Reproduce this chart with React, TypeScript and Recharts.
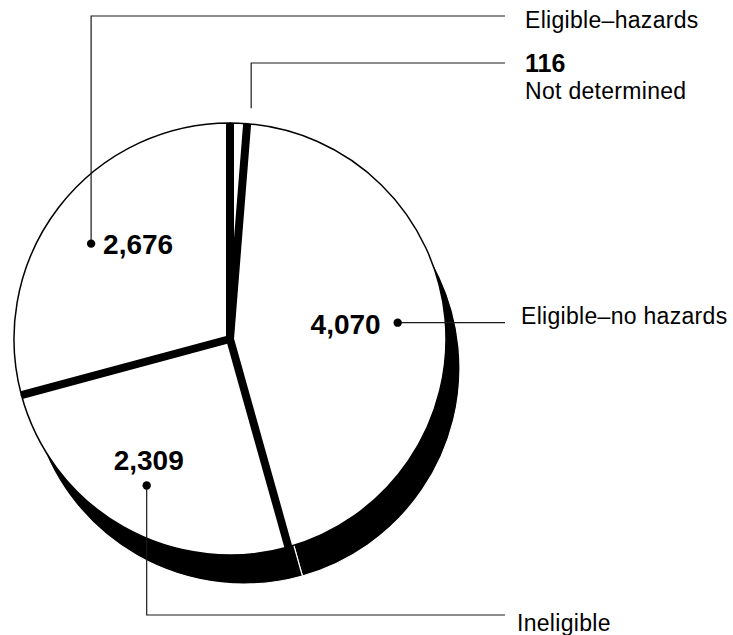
import React from 'react';
import { PieChart, Pie } from 'recharts';

// ---- data ----
const CATEGORIES = ['Not determined', 'Eligible–no hazards', 'Ineligible', 'Eligible–hazards'];
const VALUES = [116, 4070, 2309, 2676];
const VALUE_LABELS = ['116', '4,070', '2,309', '2,676'];

const data = CATEGORIES.map((name, i) => ({ name, value: VALUES[i], valueLabel: VALUE_LABELS[i] }));

// ---- layout / style ----
const W = 733;
const H = 635;
const CX = 230;
const CY = 339;
const R = 216;
const SIDE_DX = 14;
const SIDE_DY = 29;
const LINE_END_X = 505;
const FONT = '"Liberation Sans", Arial, Helvetica, sans-serif';
const DOT_FACTOR = 0.78;

type LabelLayout = {
  kind: 'outsideUp' | 'right' | 'down' | 'up';
  angleOffset?: number;
  lineY?: number;
  numDx: number;
  numDy: number;
  numAnchor: 'start' | 'middle' | 'end';
  textX: number;
  textY: number;
  numX?: number;
  numY?: number;
};

const LAYOUT: LabelLayout[] = [
  { kind: 'outsideUp', lineY: 63, numDx: 0, numDy: 0, numAnchor: 'start', numX: 525, numY: 72, textX: 525, textY: 99 },
  { kind: 'right', numDx: -17, numDy: 11, numAnchor: 'end', textX: 521, textY: 323 },
  { kind: 'down', lineY: 615, numDx: 2, numDy: -15, numAnchor: 'middle', textX: 517, textY: 631 },
  { kind: 'up', angleOffset: 3, lineY: 16, numDx: 12, numDy: 10, numAnchor: 'start', textX: 525, textY: 28 },
];

const RAD = Math.PI / 180;
const polar = (cx: number, cy: number, r: number, a: number) => ({
  x: cx + r * Math.cos(-a * RAD),
  y: cy + r * Math.sin(-a * RAD),
});

const LINE = '#1a1a1a';

function renderLabel(props: any) {
  const { cx, cy, outerRadius, startAngle, endAngle, index } = props;
  const mid = props.midAngle ?? (startAngle + endAngle) / 2;
  const lay = LAYOUT[index];
  const sep = polar(cx, cy, outerRadius, startAngle);
  const entry = data[index];

  const separator = (
    <line x1={cx} y1={cy} x2={sep.x} y2={sep.y} stroke="#000" strokeWidth={8} />
  );

  let annotation: React.ReactNode = null;
  if (lay.kind === 'outsideUp') {
    const p = polar(cx, cy, outerRadius + 15, mid);
    const x = p.x + 12;
    annotation = (
      <g>
        <polyline
          points={`${x},${p.y} ${x},${lay.lineY} ${LINE_END_X},${lay.lineY}`}
          fill="none"
          stroke={LINE}
          strokeWidth={1.2}
        />
        <text x={lay.numX} y={lay.numY} fontFamily={FONT} fontWeight="bold" fontSize={25} fill="#000">
          {entry.valueLabel}
        </text>
        <text x={lay.textX} y={lay.textY} fontFamily={FONT} fontSize={23} letterSpacing={0.3} fill="#000">
          {entry.name}
        </text>
      </g>
    );
  } else {
    const d = polar(cx, cy, outerRadius * DOT_FACTOR, mid + (lay.angleOffset || 0));
    let pts = '';
    if (lay.kind === 'right') pts = `${d.x},${d.y} ${LINE_END_X},${d.y}`;
    else pts = `${d.x},${d.y} ${d.x},${lay.lineY} ${LINE_END_X},${lay.lineY}`;
    const textY = lay.kind === 'right' ? d.y + 1 : lay.textY;
    annotation = (
      <g>
        <polyline points={pts} fill="none" stroke={LINE} strokeWidth={1.2} />
        <circle cx={d.x} cy={d.y} r={4.2} fill="#000" />
        <text
          x={d.x + lay.numDx}
          y={d.y + lay.numDy}
          textAnchor={lay.numAnchor}
          fontFamily={FONT}
          fontWeight="bold"
          fontSize={28}
          fill="#000"
        >
          {entry.valueLabel}
        </text>
        <text x={lay.textX} y={textY} fontFamily={FONT} fontSize={23} letterSpacing={0.3} fill="#000">
          {entry.name}
        </text>
      </g>
    );
  }

  return (
    <g key={`lbl-${index}`}>
      {separator}
      {annotation}
    </g>
  );
}

export default function App() {
  return (
    <div style={{ position: 'absolute', left: 0, top: 0, width: W, height: H, background: '#fff' }}>
      <PieChart width={W} height={H} margin={{ top: 0, right: 0, bottom: 0, left: 0 }}>
        {/* side (depth) of the pie */}
        <Pie
          data={data}
          dataKey="value"
          nameKey="name"
          cx={CX + SIDE_DX}
          cy={CY + SIDE_DY}
          outerRadius={R}
          innerRadius={0}
          startAngle={90}
          endAngle={-270}
          fill="#000"
          stroke="#fff"
          strokeWidth={1.2}
          isAnimationActive={false}
          label={false}
          labelLine={false}
        />
        {/* top face */}
        <Pie
          data={data}
          dataKey="value"
          nameKey="name"
          cx={CX}
          cy={CY}
          outerRadius={R}
          innerRadius={0}
          startAngle={90}
          endAngle={-270}
          fill="#fff"
          stroke="#000"
          strokeWidth={1.5}
          isAnimationActive={false}
          label={renderLabel}
          labelLine={false}
        />
      </PieChart>
    </div>
  );
}
